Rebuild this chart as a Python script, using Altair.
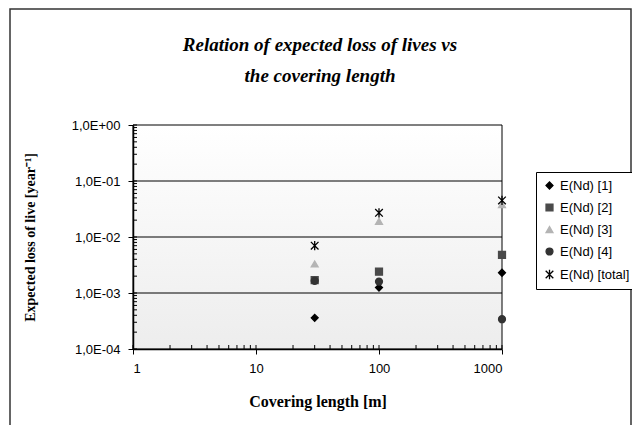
import altair as alt
import pandas as pd

# ---- data ----
lengths = [30, 100, 1000]
series_names = ["E(Nd) [1]", "E(Nd) [2]", "E(Nd) [3]", "E(Nd) [4]", "E(Nd) [total]"]
e_nd_1 = [3.6e-4, 1.25e-3, 2.3e-3]
e_nd_2 = [1.7e-3, 2.4e-3, 4.8e-3]
e_nd_3 = [3.3e-3, 1.9e-2, 3.8e-2]
e_nd_4 = [1.65e-3, 1.6e-3, 3.4e-4]
e_nd_total = [7.0e-3, 2.7e-2, 4.5e-2]

title_text = "Relation of expected loss of lives vs\nthe covering length"

y_major = [1e-4, 1e-3, 1e-2, 1e-1, 1e0]
x_major = [1, 10, 100, 1000]
y_grid = [1e-3, 1e-2, 1e-1]

fills = ["#000000", "#4a4a4a", "#b4b4b4", "#333333", "transparent"]
strokes = ["#000000", "#4a4a4a", "#b4b4b4", "#333333", "#000000"]
star = "M-1.1,-1.1L1.1,1.1M-1.1,1.1L1.1,-1.1M0,-1.35L0,1.35"
shapes = ["diamond", "square", "triangle-up", "circle", star]

rows = []
for name, vals in zip(series_names, [e_nd_1, e_nd_2, e_nd_3, e_nd_4, e_nd_total]):
    for l, v in zip(lengths, vals):
        rows.append({"L": l, "E": v, "series": name})
df = pd.DataFrame(rows)

y_minor = [m * 10.0 ** k for k in range(-4, 0) for m in range(1, 10)] + [1.0]
x_minor = [m * 10 ** k for k in range(0, 3) for m in range(1, 10)] + [1000]

W, H = 369, 224

xscale = alt.Scale(type="log", domain=[1, 1000])
yscale = alt.Scale(type="log", domain=[1e-4, 1])

one = pd.DataFrame({"k": [0]})

frame = alt.Chart(one).mark_rect(fill="white", stroke="#333333", strokeWidth=1.5).encode(
    x=alt.value(-123), x2=alt.value(498), y=alt.value(-116), y2=alt.value(320)
)

title = alt.Chart(one).mark_text(
    font="Liberation Serif", fontSize=19, fontWeight="bold", fontStyle="italic",
    color="#000000", align="center", baseline="middle", lineBreak="\n", lineHeight=31,
).encode(text=alt.value(title_text), x=alt.value(187), y=alt.value(-80))

plotbg = alt.Chart(one).mark_rect(
    color=alt.LinearGradient(
        gradient="linear",
        stops=[alt.GradientStop(offset=0, color="#ffffff"), alt.GradientStop(offset=1, color="#ededed")],
        x1=0, x2=0, y1=0, y2=1,
    ),
    stroke="#000000", strokeWidth=1,
).encode(x=alt.value(0), x2=alt.value(W), y=alt.value(0), y2=alt.value(H))

grid = alt.Chart(pd.DataFrame({"g": y_grid})).mark_rule(color="#000000", strokeWidth=1).encode(
    y=alt.Y("g:Q", scale=yscale), x=alt.value(0), x2=alt.value(W)
)

yminor = alt.Chart(pd.DataFrame({"m": y_minor})).mark_rule(color="#000000", strokeWidth=1).encode(
    y=alt.Y("m:Q", scale=yscale), x=alt.value(0), x2=alt.value(4)
)
xminor = alt.Chart(pd.DataFrame({"m": x_minor})).mark_rule(color="#000000", strokeWidth=1).encode(
    x=alt.X("m:Q", scale=xscale), y=alt.value(H), y2=alt.value(H - 4)
)

points = alt.Chart(df).mark_point(opacity=1, strokeWidth=1.3, size=48).encode(
    x=alt.X(
        "L:Q",
        scale=xscale,
        axis=alt.Axis(
            values=x_major, format="d", title="Covering length [m]", grid=False, zindex=1,
            titleFont="Liberation Serif", titleFontWeight="bold", titleFontSize=16,
            titleColor="#000000", titlePadding=18,
            labelFont="Liberation Sans", labelFontSize=13, labelColor="#000000", labelPadding=8,
            tickColor="#000000", tickSize=5, domainColor="#000000", domainWidth=1.5,
        ),
    ),
    y=alt.Y(
        "E:Q",
        scale=yscale,
        axis=alt.Axis(
            values=y_major,
            labelExpr="'1,0E' + (datum.value >= 1 ? '+00' : '-0' + round(-log(datum.value) / LN10))",
            title="Expected loss of live [year⁻¹]", grid=False, zindex=1,
            titleFont="Liberation Serif", titleFontWeight="bold", titleFontSize=14,
            titleColor="#000000", titlePadding=34,
            labelFont="Liberation Sans", labelFontSize=13, labelColor="#000000", labelPadding=8,
            tickColor="#000000", tickSize=5, domainColor="#000000", domainWidth=1.5,
        ),
    ),
    fill=alt.Fill("series:N", scale=alt.Scale(domain=series_names, range=fills), title=None),
    stroke=alt.Stroke("series:N", scale=alt.Scale(domain=series_names, range=strokes), title=None),
    shape=alt.Shape("series:N", scale=alt.Scale(domain=series_names, range=shapes), title=None),
)

chart = (
    alt.layer(frame, title, plotbg, grid, yminor, xminor, points)
    .properties(
        width=W,
        height=H,
        autosize=alt.AutoSizeParams(type="none"),
        padding={"left": 125, "top": 117, "right": 130, "bottom": 76},
    )
    .configure_view(stroke=None)
    .configure_legend(
        orient="none", legendX=403, legendY=47,
        padding=7, strokeColor="#000000", fillColor="#ffffff", cornerRadius=0,
        labelFont="Liberation Sans", labelFontSize=13, labelColor="#000000",
        symbolSize=48, symbolStrokeWidth=1.3, rowPadding=8,
    )
)

chart.save("out.html", embed_options={"renderer": "svg", "actions": False})
